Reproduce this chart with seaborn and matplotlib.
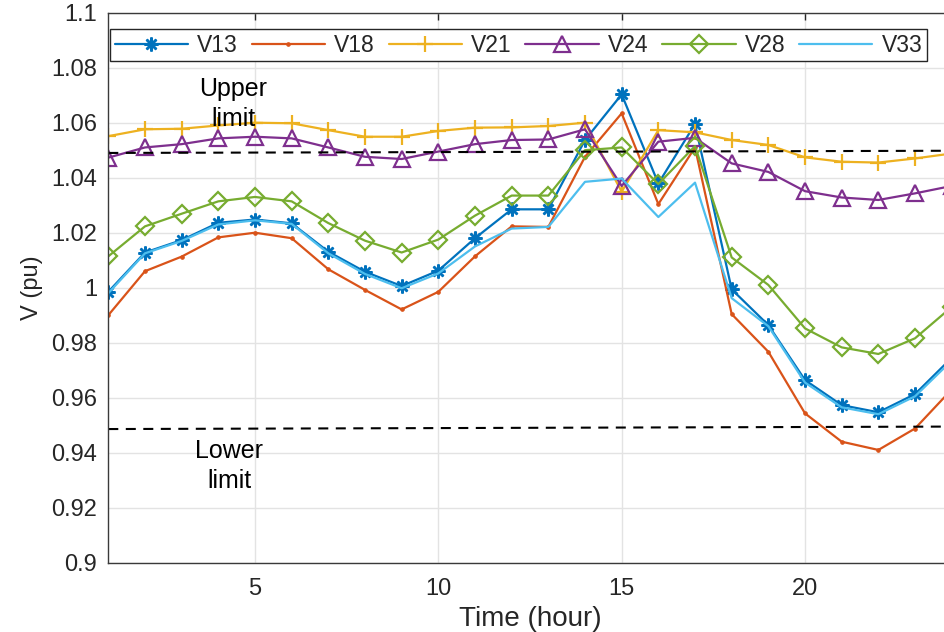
import matplotlib
matplotlib.use("Agg")
import matplotlib.pyplot as plt
import numpy as np
import pandas as pd
import seaborn as sns
from matplotlib.ticker import FuncFormatter, FixedLocator

# Bus voltages over a day (per unit)
hours = list(range(1, 25))
v13 = [0.9985, 1.0128, 1.0173, 1.0236, 1.0248, 1.0234, 1.0131, 1.0058, 1.0006, 1.0062,
       1.0180, 1.0285, 1.0285, 1.0537, 1.0703, 1.0379, 1.0595, 0.9994, 0.9864, 0.9664,
       0.9573, 0.9547, 0.9613, 0.9745]
v18 = [0.9900, 1.0060, 1.0113, 1.0183, 1.0200, 1.0180, 1.0067, 0.9992, 0.9921, 0.9985,
       1.0114, 1.0223, 1.0221, 1.0476, 1.0634, 1.0304, 1.0510, 0.9904, 0.9767, 0.9543,
       0.9440, 0.9410, 0.9488, 0.9630]
v21 = [1.0551, 1.0576, 1.0578, 1.0590, 1.0600, 1.0598, 1.0573, 1.0549, 1.0549, 1.0570,
       1.0582, 1.0583, 1.0588, 1.0600, 1.0349, 1.0573, 1.0565, 1.0537, 1.0519, 1.0474,
       1.0458, 1.0455, 1.0470, 1.0488]
v24 = [1.0473, 1.0510, 1.0522, 1.0543, 1.0549, 1.0543, 1.0510, 1.0476, 1.0468, 1.0495,
       1.0522, 1.0537, 1.0539, 1.0576, 1.0370, 1.0531, 1.0545, 1.0452, 1.0421, 1.0351,
       1.0328, 1.0319, 1.0343, 1.0370]
v28 = [1.0114, 1.0223, 1.0269, 1.0314, 1.0330, 1.0314, 1.0235, 1.0171, 1.0128, 1.0175,
       1.0262, 1.0335, 1.0335, 1.0500, 1.0510, 1.0377, 1.0515, 1.0110, 1.0010, 0.9852,
       0.9783, 0.9759, 0.9816, 0.9930]
v33 = [0.9980, 1.0125, 1.0170, 1.0230, 1.0245, 1.0232, 1.0125, 1.0050, 0.9998, 1.0052,
       1.0150, 1.0215, 1.0221, 1.0385, 1.0397, 1.0257, 1.0382, 0.9962, 0.9860, 0.9655,
       0.9565, 0.9540, 0.9605, 0.9735]
bus_names = ["V13", "V18", "V21", "V24", "V28", "V33"]
bus_values = [v13, v18, v21, v24, v28, v33]

# Voltage limits
limit_hours = [1, 24]
upper_limit = [1.0490, 1.0498]
lower_limit = [0.9486, 0.9495]

x_ticks = [5, 10, 15, 20]
y_ticks = [0.9, 0.92, 0.94, 0.96, 0.98, 1.0, 1.02, 1.04, 1.06, 1.08, 1.1]

df = pd.DataFrame({
    "hour": hours * len(bus_names),
    "V": sum(bus_values, []),
    "bus": sum([[n] * len(hours) for n in bus_names], []),
})
limits = pd.DataFrame({"hour": limit_hours * 2,
                       "V": upper_limit + lower_limit,
                       "kind": ["upper"] * 2 + ["lower"] * 2})

sns.set_theme(style="white")
plt.rcParams["font.family"] = ["Liberation Sans", "DejaVu Sans"]

fig = plt.figure(figsize=(9.44, 6.32), dpi=100)
ax = fig.add_axes([108.3 / 944, 69.3 / 632, 843.4 / 944, 550 / 632])

styles = {
    "V13": dict(color="#0072BD", marker=(8, 2, 0), markersize=10, markeredgewidth=1.8),
    "V18": dict(color="#D95319", marker="o", markersize=2.5, markeredgewidth=0.8),
    "V21": dict(color="#EDB120", marker="+", markersize=12, markeredgewidth=1.6),
    "V24": dict(color="#7E2F8E", marker="^", markersize=11, markeredgewidth=1.6,
                markerfacecolor="none"),
    "V28": dict(color="#77AC30", marker="D", markersize=9, markeredgewidth=1.6,
                markerfacecolor="none"),
    "V33": dict(color="#4DBEEE", marker=None),
}

for name in bus_names:
    st = dict(styles[name])
    color = st.pop("color")
    sub = df[df["bus"] == name]
    kw = dict(markeredgecolor=color)
    if st.get("marker") is None:
        st.pop("marker")
    kw.update(st)
    sns.lineplot(data=sub, x="hour", y="V", ax=ax, color=color, linewidth=1.6,
                 label=name, **kw)

for kind in ["upper", "lower"]:
    sub = limits[limits["kind"] == kind]
    sns.lineplot(data=sub, x="hour", y="V", ax=ax, color="black", linewidth=1.5,
                 linestyle=(0, (4.8, 3.6)), legend=False)

ax.text(4.4, 1.0724, "Upper", ha="center", va="center", fontsize=18, color="black")
ax.text(4.4, 1.0614, "limit", ha="center", va="center", fontsize=18, color="black")
ax.text(4.3, 0.9408, "Lower", ha="center", va="center", fontsize=18, color="black")
ax.text(4.3, 0.9298, "limit", ha="center", va="center", fontsize=18, color="black")

ax.set_xlim(1, 24)
ax.set_ylim(0.9, 1.1)
ax.xaxis.set_major_locator(FixedLocator(x_ticks))
ax.yaxis.set_major_locator(FixedLocator(y_ticks))
ax.yaxis.set_major_formatter(FuncFormatter(lambda v, p: f"{v:g}"))

ax.grid(True, color="#e3e3e3", linewidth=1.0)
ax.set_axisbelow(True)
for sp in ax.spines.values():
    sp.set_color("#3a3a3a")
    sp.set_linewidth(1.0)
ax.tick_params(direction="in", length=5, width=1, top=True, right=True,
               labelsize=17, colors="#262626")
ax.tick_params(axis="y", pad=8)
ax.tick_params(axis="x", pad=11)

ax.set_xlabel("Time (hour)", fontsize=20, color="#262626", labelpad=4)
ax.set_ylabel("V (pu)", fontsize=17, color="#262626", labelpad=6)

leg = ax.legend(loc="upper left", bbox_to_anchor=(0.002, 0.970), ncol=6,
                handlelength=3.2, handletextpad=0.4, columnspacing=0.6,
                borderpad=0.2, borderaxespad=0, fancybox=False,
                edgecolor="#262626", framealpha=1, fontsize=16.5)
leg.get_frame().set_linewidth(1.0)

fig.savefig("out.png", dpi=100)
